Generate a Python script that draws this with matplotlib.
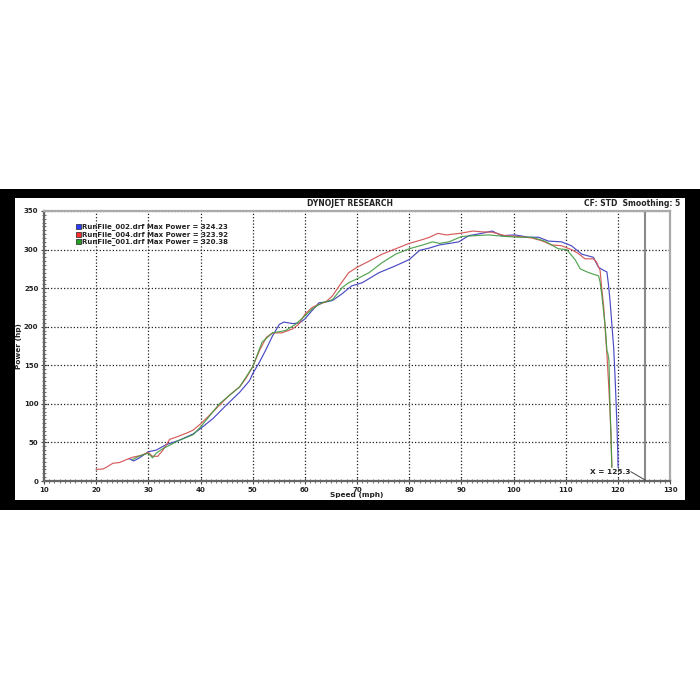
import matplotlib
matplotlib.use('Agg')
import matplotlib.pyplot as plt
from matplotlib.patches import Rectangle
from matplotlib.ticker import MultipleLocator

# ---------------- data ----------------
blue_mph = [26.3, 27.2, 28.3, 30, 31.5, 33.4, 36, 38.6, 40, 42.4, 44.9, 47.5, 49.4, 50,
            51.3, 52.6, 53.8, 55.1, 56, 57.7, 59, 60, 61.4, 62.7, 64, 65.3, 67, 69, 71,
            74.2, 77.4, 80, 82, 83.9, 85.8, 87.7, 89.5, 91.4, 93.9, 95.9, 97.8, 100.3,
            102.9, 104.8, 106.7, 109.2, 111.1, 113.1, 115.3, 116.3, 117.3, 117.9, 118.2,
            118.5, 118.8, 119.2, 119.5, 119.8, 120, 120.05]
blue_hp = [29, 26, 30, 38, 40, 47, 53, 61, 68, 81, 98, 115, 130, 139,
           154, 171, 188, 203, 206, 204, 205, 210, 221, 231, 232, 234, 242, 253, 257,
           270, 279, 287, 299, 302, 306, 308, 310, 318, 321, 324, 318, 319,
           316, 316, 311, 310, 305, 294, 290, 277, 273, 271, 255,
           234, 208, 173, 130, 78, 35, 18]

red_mph = [20, 21.3, 22, 23.2, 24.5, 25.9, 27.1, 28.5, 30, 30.8, 31.8, 32.8, 34.1, 35.4,
           37.3, 38.6, 40, 41.7, 43.6, 45.5, 47.5, 48.7, 50, 51.3, 52.6, 53.8, 55.6, 57.6,
           58.8, 60, 61.4, 62.7, 64, 65.3, 66.5, 68.4, 70, 72.3, 74.8, 77.4, 80, 82.6,
           83.9, 85.5, 87.1, 89.7, 92.2, 93.9, 95.9, 98.4, 101, 103.5, 105.4, 107.3,
           109.2, 111.1, 112.4, 113.7, 115.3, 115.9, 116.6, 116.9, 117.3, 117.6, 117.9,
           118.2, 118.5, 118.7, 118.85]
red_hp = [15, 15.5, 18, 23, 24, 28, 31, 33, 37, 32, 32, 40, 54, 57,
          62, 66, 74, 85, 98, 111, 122, 133, 148, 169, 186, 192, 192, 197,
          203, 216, 225, 229, 232, 240, 252, 270, 277, 285, 294, 301, 308, 313,
          316, 321, 319, 321, 324, 323, 322.5, 318, 317, 315, 311.5, 306,
          305, 300, 295, 288, 288, 284, 273, 251, 225, 195, 165,
          130, 91, 57, 18]

green_mph = [27, 28.5, 30, 30.8, 31.5, 32.8, 36, 38.6, 40, 41.7, 43.6, 47.5, 50, 51.8, 53.8,
             56.3, 58.2, 60, 61.4, 63.3, 65.3, 67.2, 68.4, 70, 72.3, 74.8, 77.4, 80, 82.6,
             84.5, 85.8, 87.6, 90.1, 92.7, 95.2, 98.4, 101, 103.5, 106, 108.6, 110.2,
             111.8, 112.8, 114.1, 115.3, 116.3, 116.6, 116.9, 117.6, 117.9, 118.1, 118.3,
             118.5, 118.7, 118.85]
green_hp = [28, 33, 36, 30, 36, 42, 53, 60, 70, 84, 100, 122, 148, 180, 192,
            195, 203, 214, 223, 231, 235, 251, 257, 262, 270, 283, 294, 301, 306,
            310, 308, 310, 317, 318, 319, 317, 316, 316, 311, 301, 300,
            287, 275, 271, 268, 266, 258, 243, 199, 169, 165, 156,
            96, 57, 18]

legend_labels = ["RunFile_002.drf Max Power = 324.23",
                 "RunFile_004.drf Max Power = 323.92",
                 "RunFile_001.drf Max Power = 320.38"]
x_ticks = list(range(10, 131, 10))
y_ticks = list(range(0, 351, 50))
marker_x = 125.3

# ---------------- layout helpers ----------------
W = H = 700
fig = plt.figure(figsize=(7, 7), dpi=100)
fig.patch.set_facecolor('white')


def fx(px):
    return px / W


def fy(py):
    return 1 - py / H


fig.patches.append(Rectangle((0, fy(510)), 1, (510 - 189) / H, transform=fig.transFigure,
                             facecolor='black', edgecolor='none', zorder=-3))
fig.patches.append(Rectangle((fx(15), fy(500)), (685 - 15) / W, (500 - 198) / H,
                             transform=fig.transFigure, facecolor='white',
                             edgecolor='none', zorder=-2))

ax = fig.add_axes([fx(44), fy(481), (670 - 44) / W, (481 - 211) / H])
ax.set_zorder(1)
ax.set_facecolor('white')
ax.set_xlim(10, 130)
ax.set_ylim(0, 350)

ax.set_xticks(x_ticks)
ax.set_yticks(y_ticks)
ax.xaxis.set_minor_locator(MultipleLocator(1))
ax.yaxis.set_minor_locator(MultipleLocator(5))
ax.tick_params(which='major', direction='inout', length=5, width=0.8, color='#444',
               labelsize=5, pad=1.5)
ax.tick_params(which='minor', direction='inout', length=3, width=0.6, color='#555')
for lab in ax.get_xticklabels() + ax.get_yticklabels():
    lab.set_fontweight('bold')
    lab.set_color('#222')

ax.grid(which='major', color='#222', linestyle=(0, (1, 1.6)), linewidth=0.9)
for s in ['left', 'bottom']:
    ax.spines[s].set_color('#666')
    ax.spines[s].set_linewidth(1.6)
for s in ['top', 'right']:
    ax.spines[s].set_color('#aaa')
    ax.spines[s].set_linewidth(1.6)

ax.axvline(marker_x, color='#8a8a8a', lw=1.5, zorder=2)

ax.plot(blue_mph, blue_hp, color='#4a4ac4', lw=0.85, zorder=3)
ax.plot(red_mph, red_hp, color='#d65c5c', lw=0.85, zorder=4)
ax.plot(green_mph, green_hp, color='#3f9a3f', lw=0.85, zorder=5, alpha=0.9)

ax.text(122.4, 12, 'X = 125.3', ha='right', va='center', fontsize=5.3,
        fontweight='bold', color='#222', zorder=6)
ax.plot([122.5, marker_x], [12, 1], color='#444', lw=0.7, zorder=6)

# texts
fig.text(fx(350), fy(204), 'DYNOJET RESEARCH', ha='center', va='center',
         fontsize=5.5, fontweight='bold', color='#222')
fig.text(fx(680), fy(203), 'CF: STD  Smoothing: 5', ha='right', va='center',
         fontsize=5.5, fontweight='bold', color='#222')
fig.text(fx(19), fy(346), 'Power (hp)', rotation=90, ha='center', va='center',
         fontsize=5.3, fontweight='bold', color='#222')
fig.text(fx(357), fy(495.5), 'Speed (mph)', ha='center', va='center',
         fontsize=5.3, fontweight='bold', color='#222')

legend_colors = ['#2a3cff', '#ff2a2a', '#22a022']
for i, (lab, col) in enumerate(zip(legend_labels, legend_colors)):
    yc = 226.7 + 7.5 * i
    fig.patches.append(Rectangle((fx(76), fy(yc + 2.7)), 5 / W, 5.4 / H,
                                 transform=fig.transFigure, facecolor=col,
                                 edgecolor='#222', lw=0.5, zorder=10))
    fig.text(fx(82), fy(yc), lab, ha='left', va='center', fontsize=5,
             fontweight='bold', color='#222', zorder=10)

fig.savefig('out.png', dpi=100, facecolor='white')
